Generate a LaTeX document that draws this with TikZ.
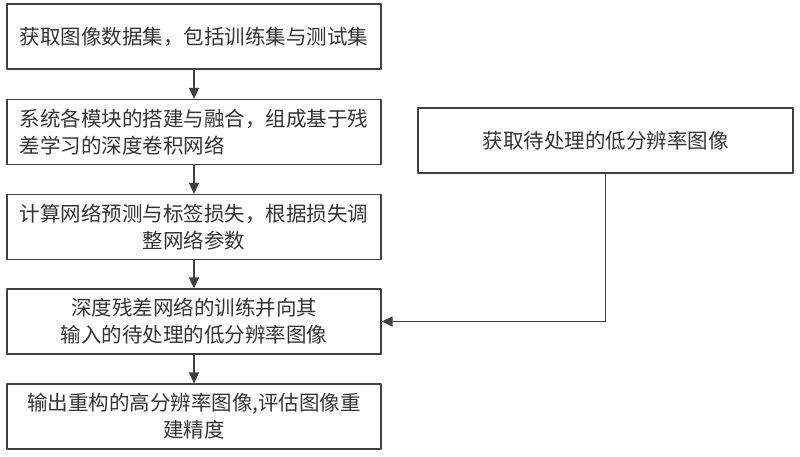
\documentclass[tikz,border=0pt]{standalone}
\usepackage{fontspec}
\setmainfont{Noto Sans CJK SC}
\usetikzlibrary{arrows.meta}
\begin{document}
\begin{tikzpicture}[x=1pt,y=-1pt,>={Stealth[length=11pt,width=10pt,inset=0pt]}, font=\fontsize{20.5}{27}\selectfont, line join=round, line cap=round]
		\tikzset{box style/.style={draw=black!75, line width=1.2pt, text=black!80, minimum width=374pt, minimum height=65pt, inner sep=0pt, align=center}}
		\tikzset{line style/.style={draw=black!75, line width=1.2pt}}
		\useasboundingbox (0,0) rectangle (800,456);
		\def \xl{194}\def \xr{605.5}
		\node[box style] (data) at (\xl,36.5) {获取图像数据集，包括训练集与测试集};
		\node[box style, align=left] (build) at (\xl,132) {系统各模块的搭建与融合，组成基于残\\差学习的深度卷积网络};
		\node[box style] (loss) at (\xl,227) {计算网络预测与标签损失，根据损失调\\整网络参数};
		\node[box style] (train) at (\xl,321.5) {深度残差网络的训练并向其\\输入的待处理的低分辨率图像};
		\node[box style] (output) at (\xl,416.5) {输出重构的高分辨率图像,评估图像重\\建精度};
		\node[box style, minimum width=375pt] (input) at (\xr,140.5) {获取待处理的低分辨率图像};
		\draw[line style,->] (data)--(build);
		\draw[line style,->] (build)--(loss);
		\draw[line style,->] (loss)--(train);
		\draw[line style,->] (train)--(output);
		\draw[line style,->] (input.south) |- (train.east);
\end{tikzpicture}
\end{document}
